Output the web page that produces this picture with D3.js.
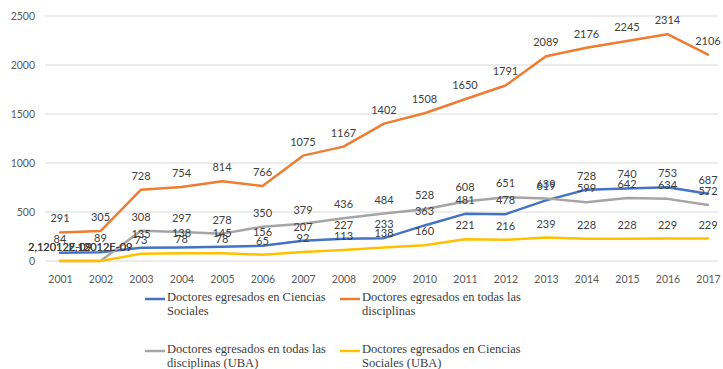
<!DOCTYPE html>
<html>
<head>
<meta charset="utf-8">
<script src="https://cdn.jsdelivr.net/npm/d3@7"></script>
<style>
  html, body { margin: 0; padding: 0; background: #fff; }
  svg { display: block; }
</style>
</head>
<body>
<svg id="chart" width="723" height="369"></svg>
<script>
// Doctoral graduates per year, 2001–2017
const years = [2001, 2002, 2003, 2004, 2005, 2006, 2007, 2008, 2009, 2010, 2011, 2012, 2013, 2014, 2015, 2016, 2017];

const socialesTotal = [84, 89, 135, 138, 145, 156, 207, 227, 233, 363, 481, 478, 619, 728, 740, 753, 687];
const todasTotal    = [291, 305, 728, 754, 814, 766, 1075, 1167, 1402, 1508, 1650, 1791, 2089, 2176, 2245, 2314, 2106];
const todasUBA      = [2.12012e-9, 2.12012e-9, 308, 297, 278, 350, 379, 436, 484, 528, 608, 651, 639, 599, 642, 634, 572];
const socialesUBA   = [2.12012e-9, 2.12012e-9, 73, 78, 78, 65, 92, 113, 138, 160, 221, 216, 239, 228, 228, 229, 229];

const seriesNames = [
  "Doctores egresados en Ciencias Sociales",
  "Doctores egresados en todas las disciplinas",
  "Doctores egresados en todas las disciplinas (UBA)",
  "Doctores egresados en Ciencias Sociales (UBA)"
];
const seriesValues = [socialesTotal, todasTotal, todasUBA, socialesUBA];
const seriesColors = ["#4472C4", "#ED7D31", "#A5A5A5", "#FFC000"];

const yTicks = [0, 500, 1000, 1500, 2000, 2500];

const svg = d3.select("#chart");

const x = d3.scalePoint().domain(years).range([60, 708]);
const y = d3.scaleLinear().domain([0, 2500]).range([261, 16]);

// Horizontal gridlines
svg.append("g")
  .selectAll("line")
  .data(yTicks)
  .join("line")
  .attr("x1", 45).attr("x2", 718)
  .attr("y1", d => y(d)).attr("y2", d => y(d))
  .attr("stroke", "#d9d9d9").attr("stroke-width", 1);

// Y axis labels
const yAxis = d3.axisLeft(y).tickValues(yTicks).tickSize(0).tickPadding(0).tickFormat(d3.format("d"));
svg.append("g")
  .attr("transform", "translate(35,0)")
  .call(yAxis)
  .call(g => g.select(".domain").remove())
  .selectAll("text")
  .attr("font-family", "Lato, 'Open Sans', sans-serif")
  .attr("font-size", 10.5)
  .attr("fill", "#595959");

// X axis labels
const xAxis = d3.axisBottom(x).tickSize(0).tickPadding(0).tickFormat(d3.format("d"));
svg.append("g")
  .attr("transform", "translate(0,276)")
  .call(xAxis)
  .call(g => g.select(".domain").remove())
  .selectAll("text")
  .attr("font-family", "Lato, 'Open Sans', sans-serif")
  .attr("font-size", 10.5)
  .attr("fill", "#595959");

// Series lines
const line = d3.line().x((d, i) => x(years[i])).y(d => y(d));
svg.append("g")
  .selectAll("path")
  .data(seriesValues)
  .join("path")
  .attr("d", d => line(d))
  .attr("fill", "none")
  .attr("stroke", (d, i) => seriesColors[i])
  .attr("stroke-width", 2.5)
  .attr("stroke-linejoin", "round")
  .attr("stroke-linecap", "round");

// Data labels above each point
const fmt = v => v < 1e-3
  ? v.toExponential(5).replace(".", ",").replace(/e-(\d)$/, "E-0$1")
  : d3.format("d")(v);

const labelData = seriesValues.flatMap((vals, s) => vals.map((v, i) => ({ s, v, yr: years[i] })));
svg.append("g")
  .selectAll("text")
  .data(labelData)
  .join("text")
  .attr("x", d => x(d.yr))
  .attr("y", d => y(d.v) - 10)
  .attr("text-anchor", "middle")
  .attr("font-family", "Lato, 'Open Sans', sans-serif")
  .attr("font-size", 11)
  .attr("fill", "#404040")
  .text(d => fmt(d.v));

// Legend: two columns, two rows, wrapped labels
const legendPos = [[145, 299], [340, 299], [145, 351], [340, 351]];
const legend = svg.append("g");
seriesNames.forEach((name, i) => {
  const [lx, ly] = legendPos[i];
  const g = legend.append("g").attr("transform", `translate(${lx},${ly})`);
  g.append("line")
    .attr("x1", 0).attr("x2", 20).attr("y1", 0).attr("y2", 0)
    .attr("stroke", seriesColors[i]).attr("stroke-width", 2.5);
  const t = g.append("text")
    .attr("font-family", "'Liberation Serif', 'DejaVu Serif', serif")
    .attr("font-size", 12.5)
    .attr("fill", "#404040");
  // wrap at ~162px
  const words = name.split(" ");
  let lineWords = [];
  let lineNo = 0;
  let tspan = t.append("tspan").attr("x", 22).attr("y", 2);
  words.forEach(w => {
    lineWords.push(w);
    tspan.text(lineWords.join(" "));
    if (tspan.node().getComputedTextLength() > 162 && lineWords.length > 1) {
      lineWords.pop();
      tspan.text(lineWords.join(" "));
      lineWords = [w];
      lineNo++;
      tspan = t.append("tspan").attr("x", 22).attr("y", 2 + lineNo * 13.5).text(w);
    }
  });
});
</script>
</body>
</html>
